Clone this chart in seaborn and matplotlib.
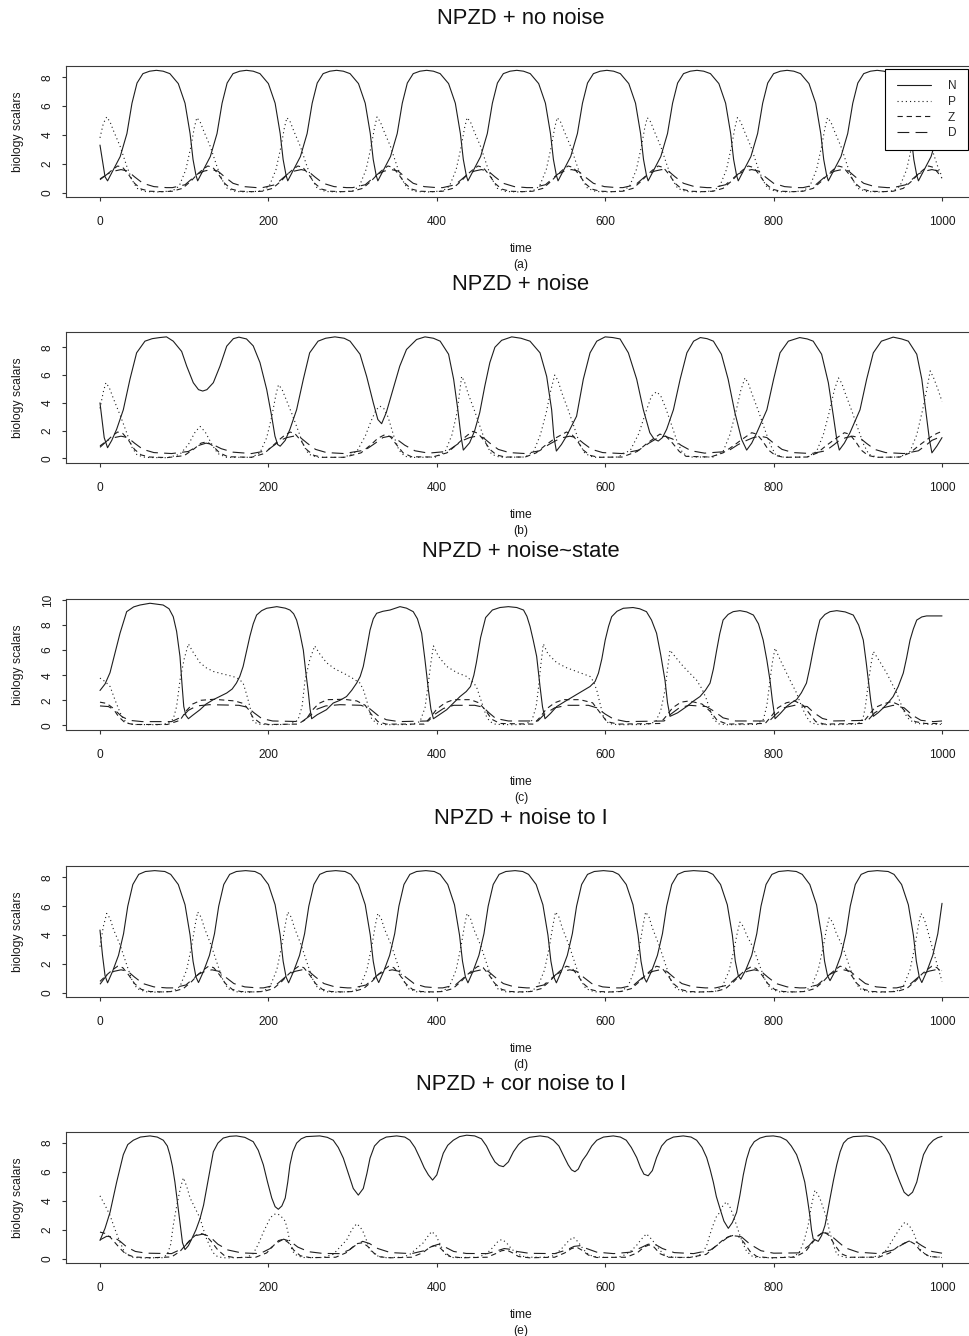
import matplotlib
matplotlib.use("Agg")
import matplotlib.pyplot as plt
import seaborn as sns

# ------------------------------------------------------------------ data
SERIES_NAMES = ["N", "P", "Z", "D"]
TITLES = ["NPZD + no noise", "NPZD + noise", "NPZD + noise~state",
          "NPZD + noise to I", "NPZD + cor noise to I"]
TAGS = ["(a)", "(b)", "(c)", "(d)", "(e)"]
X_TICKS = [0, 200, 400, 600, 800, 1000]
Y_TICKS_8 = [0, 2, 4, 6, 8]
Y_TICKS_10 = [0, 2, 4, 6, 8, 10]

# ---- (a) no noise : (time, value)
A_N = [(0,3.3),(6,1.1),
(9,0.82),(16,1.6),(24,2.5),(32,4.1),(38,6.2),(44,7.6),(51,8.25),(59,8.42),(67,8.48),(75,8.42),(83,8.25),(93,7.56),(101,6.2),(107,4.1),(110.5,2.3),(114,1.2),
(116,0.82),(123,1.6),(131,2.5),(139,4.1),(145,6.2),(151,7.6),(158,8.25),(166,8.42),(174,8.48),(182,8.42),(190,8.25),(200,7.56),(208,6.2),(214,4.1),(217.5,2.3),(221,1.2),
(223,0.82),(230,1.6),(238,2.5),(246,4.1),(252,6.2),(258,7.6),(265,8.25),(273,8.42),(281,8.48),(289,8.42),(297,8.25),(307,7.56),(315,6.2),(321,4.1),(324.5,2.3),(328,1.2),
(330,0.82),(337,1.6),(345,2.5),(353,4.1),(359,6.2),(365,7.6),(372,8.25),(380,8.42),(388,8.48),(396,8.42),(404,8.25),(414,7.56),(422,6.2),(428,4.1),(431.5,2.3),(435,1.2),
(437,0.82),(444,1.6),(452,2.5),(460,4.1),(466,6.2),(472,7.6),(479,8.25),(487,8.42),(495,8.48),(503,8.42),(511,8.25),(521,7.56),(529,6.2),(535,4.1),(538.5,2.3),(542,1.2),
(544,0.82),(551,1.6),(559,2.5),(567,4.1),(573,6.2),(579,7.6),(586,8.25),(594,8.42),(602,8.48),(610,8.42),(618,8.25),(628,7.56),(636,6.2),(642,4.1),(645.5,2.3),(649,1.2),
(651,0.82),(658,1.6),(666,2.5),(674,4.1),(680,6.2),(686,7.6),(693,8.25),(701,8.42),(709,8.48),(717,8.42),(725,8.25),(735,7.56),(743,6.2),(749,4.1),(752.5,2.3),(756,1.2),
(758,0.82),(765,1.6),(773,2.5),(781,4.1),(787,6.2),(793,7.6),(800,8.25),(808,8.42),(816,8.48),(824,8.42),(832,8.25),(842,7.56),(850,6.2),(856,4.1),(859.5,2.3),(863,1.2),
(865,0.82),(872,1.6),(880,2.5),(888,4.1),(894,6.2),(900,7.6),(907,8.25),(915,8.42),(923,8.48),(931,8.42),(939,8.25),(949,7.56),(957,6.2),(963,4.1),(966.5,2.3),(970,1.2),
(972,0.82),(979,1.6),(987,2.5),(995,4.1),(1000,5.9)]

A_P = [(0,3.8),(4,4.8),(8,5.25),(12,4.9),(16,4.3),(24,3.2),(32,1.8),(38,0.9),(44,0.3),(54,0.08),(69,0.05),
(86,0.12),(94,0.45),(102,1.6),(108,3.2),(112,4.5),(115,5.2),(119,4.9),(123,4.3),(131,3.2),(139,1.8),(145,0.9),(151,0.3),(161,0.08),(176,0.05),
(193,0.12),(201,0.45),(209,1.6),(215,3.2),(219,4.5),(222,5.2),(226,4.9),(230,4.3),(238,3.2),(246,1.8),(252,0.9),(258,0.3),(268,0.08),(283,0.05),
(300,0.12),(308,0.45),(316,1.6),(322,3.2),(326,4.5),(329,5.25),(333,4.9),(337,4.3),(345,3.2),(353,1.8),(359,0.9),(365,0.3),(375,0.08),(390,0.05),
(407,0.12),(415,0.45),(423,1.6),(429,3.2),(433,4.5),(436,5.2),(440,4.9),(444,4.3),(452,3.2),(460,1.8),(466,0.9),(472,0.3),(482,0.08),(497,0.05),
(514,0.12),(522,0.45),(530,1.6),(536,3.2),(540,4.5),(543,5.2),(547,4.9),(551,4.3),(559,3.2),(567,1.8),(573,0.9),(579,0.3),(589,0.08),(604,0.05),
(621,0.12),(629,0.45),(637,1.6),(643,3.2),(647,4.5),(650,5.2),(654,4.9),(658,4.3),(666,3.2),(674,1.8),(680,0.9),(686,0.3),(696,0.08),(711,0.05),
(728,0.12),(736,0.45),(744,1.6),(750,3.2),(754,4.5),(757,5.2),(761,4.9),(765,4.3),(773,3.2),(781,1.8),(787,0.9),(793,0.3),(803,0.08),(818,0.05),
(835,0.12),(843,0.45),(851,1.6),(857,3.2),(861,4.5),(864,5.2),(868,4.9),(872,4.3),(880,3.2),(888,1.8),(894,0.9),(900,0.3),(910,0.08),(925,0.05),
(942,0.12),(950,0.45),(958,1.6),(964,3.2),(968,4.5),(971,5.2),(975,4.9),(979,4.3),(987,3.2),(995,1.8),(1000,1.1)]

A_Z = [(0,0.95),(9,1.3),(15,1.6),(21,1.85),(27,1.75),(34,1.25),(41,0.65),(49,0.25),(59,0.1),(74,0.07),
(86,0.1),(98,0.3),(108,0.8),(116,1.3),(122,1.6),(128,1.85),(134,1.75),(141,1.25),(148,0.65),(156,0.25),(166,0.1),(181,0.07),
(193,0.1),(205,0.3),(215,0.8),(223,1.3),(229,1.6),(235,1.85),(241,1.75),(248,1.25),(255,0.65),(263,0.25),(273,0.1),(288,0.07),
(300,0.1),(312,0.3),(322,0.8),(330,1.3),(336,1.6),(342,1.85),(348,1.75),(355,1.25),(362,0.65),(370,0.25),(380,0.1),(395,0.07),
(407,0.1),(419,0.3),(429,0.8),(437,1.3),(443,1.6),(449,1.85),(455,1.75),(462,1.25),(469,0.65),(477,0.25),(487,0.1),(502,0.07),
(514,0.1),(526,0.3),(536,0.8),(544,1.3),(550,1.6),(556,1.85),(562,1.75),(569,1.25),(576,0.65),(584,0.25),(594,0.1),(609,0.07),
(621,0.1),(633,0.3),(643,0.8),(651,1.3),(657,1.6),(663,1.85),(669,1.75),(676,1.25),(683,0.65),(691,0.25),(701,0.1),(716,0.07),
(728,0.1),(740,0.3),(750,0.8),(758,1.3),(764,1.6),(770,1.85),(776,1.75),(783,1.25),(790,0.65),(798,0.25),(808,0.1),(823,0.07),
(835,0.1),(847,0.3),(857,0.8),(865,1.3),(871,1.6),(877,1.85),(883,1.75),(890,1.25),(897,0.65),(905,0.25),(915,0.1),(930,0.07),
(942,0.1),(954,0.3),(964,0.8),(972,1.3),(978,1.6),(984,1.85),(990,1.75),(997,1.25),(1000,1.0)]

A_D = [(0,0.9),(9,1.3),(17,1.5),(25,1.6),(33,1.5),(41,1.1),(51,0.65),(64,0.42),(79,0.35),
(86,0.35),(101,0.55),(110,1.0),(116,1.3),(124,1.5),(132,1.6),(140,1.5),(148,1.1),(158,0.65),(171,0.42),(186,0.35),
(193,0.35),(208,0.55),(217,1.0),(223,1.3),(231,1.5),(239,1.6),(247,1.5),(255,1.1),(265,0.65),(278,0.42),(293,0.35),
(300,0.35),(315,0.55),(324,1.0),(330,1.3),(338,1.5),(346,1.6),(354,1.5),(362,1.1),(372,0.65),(385,0.42),(400,0.35),
(407,0.35),(422,0.55),(431,1.0),(437,1.3),(445,1.5),(453,1.6),(461,1.5),(469,1.1),(479,0.65),(492,0.42),(507,0.35),
(514,0.35),(529,0.55),(538,1.0),(544,1.3),(552,1.5),(560,1.6),(568,1.5),(576,1.1),(586,0.65),(599,0.42),(614,0.35),
(621,0.35),(636,0.55),(645,1.0),(651,1.3),(659,1.5),(667,1.6),(675,1.5),(683,1.1),(693,0.65),(706,0.42),(721,0.35),
(728,0.35),(743,0.55),(752,1.0),(758,1.3),(766,1.5),(774,1.6),(782,1.5),(790,1.1),(800,0.65),(813,0.42),(828,0.35),
(835,0.35),(850,0.55),(859,1.0),(865,1.3),(873,1.5),(881,1.6),(889,1.5),(897,1.1),(907,0.65),(920,0.42),(935,0.35),
(942,0.35),(957,0.55),(966,1.0),(972,1.3),(980,1.5),(988,1.6),(996,1.5),(1000,1.3)]

# ---- (b) noise
B_N = [(0,4.0),(5,1.5),(9,0.77),(14,1.3),(19.8,2.1),(27.7,3.5),(35.6,5.7),(43.5,7.6),(53.4,8.44),(62,8.62),(71,8.7),(79,8.75),
(87,8.44),(97,7.7),(103,6.64),(110.8,5.45),(117,4.95),(122,4.85),(127,4.95),(134.6,5.45),(142.5,6.64),(150.5,8.08),(158.4,8.62),(165,8.73),
(174,8.6),(182,8.1),(190,6.9),(198,4.96),(204,3.0),(207.8,1.6),(211,1.0),(214,0.88),(220,1.3),(225.6,2.1),(233.5,3.5),(241.5,5.7),(249,7.6),
(259,8.44),(268,8.65),(279,8.75),(290,8.65),(297,8.44),(308.8,7.5),(316.7,5.9),(324.6,4.0),(330,2.8),(334.5,2.5),(340,3.3),(348,4.96),
(356,6.64),(364,7.84),(376,8.56),(386,8.75),(396,8.65),(404,8.44),(414,7.5),(420,5.7),(425,3.5),(428.7,1.6),(431.5,0.6),(439,1.13),
(445,2.0),(451,3.3),(457,5.2),(463,6.9),(469,8.0),(477,8.5),(489,8.75),(500,8.65),(510.7,8.44),(522.6,7.6),(530.5,5.9),(536.4,3.5),
(539,1.6),(542,0.53),(548,1.0),(554,1.6),(566,3.04),(574,5.7),(582,7.6),(590,8.44),(600,8.75),(609,8.7),(617.6,8.6),(627.5,7.6),
(637.4,5.7),(645.3,3.5),(653,1.85),(658,1.4),(663,1.25),(668,1.5),(673,2.1),(681,3.5),(689,5.7),(697,7.6),(705,8.44),(713,8.7),
(721,8.62),(728.5,8.44),(738,7.5),(746,5.7),(754,3.3),(762,1.37),(768,0.6),(774,1.1),(780,1.85),(792,3.5),(800,5.7),(807.6,7.6),
(817.5,8.44),(831,8.7),(840,8.6),(847,8.44),(857,7.5),(865,5.45),(871,3.04),(875,1.37),(878,0.6),(884,1.1),(890.7,1.85),(902.6,3.5),
(910.5,5.7),(918.4,7.6),(928,8.44),(942,8.73),(952,8.6),(960,8.44),(970,7.5),(976,5.7),(981,3.3),(985,1.37),(988,0.4),(994,0.9),(1000,1.5)]

B_P = [(0,3.6),(4,4.8),(7,5.45),(11,5.1),(16,4.3),(24,3.1),(32,1.8),(38,0.8),(44,0.25),(54,0.07),(80,0.05),(95,0.3),(105,1.0),
(113,1.9),(119,2.3),(125,1.9),(133,1.0),(140,0.35),(150,0.08),(180,0.08),(190,0.4),(198,1.5),(204,3.0),(209,4.6),(212,5.3),(216,5.0),
(220,4.4),(228,3.2),(236,1.9),(242,0.9),(248,0.3),(258,0.08),(290,0.08),(305,0.5),(315,1.6),(322,2.7),(328,3.5),(332.5,3.76),(337,3.6),
(342,3.0),(349,1.6),(355,0.6),(362,0.15),(372,0.07),(400,0.1),(410,0.5),(418,1.7),(424,3.3),(427,4.7),(429.5,5.9),(433,5.5),(437,4.7),
(445,3.4),(453,2.0),(459,1.0),(465,0.3),(475,0.08),(505,0.1),(515,0.5),(523,1.7),(530,3.3),(535,4.8),(540,6.0),(544,5.6),(548,4.8),
(556,3.5),(564,2.1),(570,1.0),(576,0.35),(586,0.08),(615,0.1),(630,0.6),(640,1.8),(648,3.3),(655,4.5),(661,4.8),(666,4.5),(672,3.6),
(680,2.2),(686,1.1),(692,0.4),(700,0.1),(728,0.1),(740,0.5),(748,1.7),(755,3.3),(761,4.9),(766,5.8),(770,5.4),(774,4.7),(782,3.4),
(790,2.0),(796,1.0),(802,0.3),(812,0.08),(840,0.1),(851,0.5),(859,1.7),(866,3.3),(872,4.9),(877,5.8),(881,5.4),(885,4.7),(893,3.4),
(901,2.0),(907,1.0),(913,0.3),(923,0.08),(950,0.1),(962,0.5),(970,1.7),(977,3.5),(982,5.0),(986,6.3),(990,5.8),(995,5.0),(1000,4.1)]

B_Z = [(0,0.9),(9,1.3),(15,1.65),(21,1.9),(27,1.8),(34,1.3),(41,0.65),(49,0.25),(59,0.1),(80,0.06),(100,0.2),(112,0.7),(120,1.1),
(127,1.2),(134,0.9),(142,0.4),(152,0.12),(180,0.08),(195,0.35),(205,0.9),(214,1.4),(220,1.7),(226,1.9),(232,1.75),(239,1.25),(246,0.6),
(254,0.22),(264,0.08),(290,0.08),(310,0.4),(322,1.0),(330,1.45),(338,1.7),(345,1.55),(352,1.0),(360,0.4),(370,0.12),(395,0.1),(412,0.4),
(422,0.9),(431,1.4),(437,1.7),(443,1.95),(449,1.8),(456,1.3),(463,0.65),(471,0.25),(481,0.1),(505,0.1),(518,0.4),(528,0.9),(537,1.3),
(542,1.5),(548,1.7),(554,1.9),(560,1.75),(567,1.25),(574,0.6),(582,0.22),(592,0.08),(620,0.1),(638,0.5),(650,1.1),(658,1.45),(665,1.75),
(672,1.6),(680,1.1),(688,0.5),(696,0.15),(725,0.1),(740,0.4),(752,0.9),(762,1.35),(768,1.6),(774,1.85),(780,1.75),(787,1.25),(794,0.6),
(802,0.22),(812,0.08),(840,0.1),(852,0.4),(862,0.9),(872,1.35),(878,1.6),(884,1.85),(890,1.75),(897,1.25),(904,0.6),(912,0.22),(922,0.08),
(950,0.1),(962,0.4),(972,0.9),(982,1.35),(988,1.6),(994,1.8),(1000,1.95)]

B_D = [(0,0.8),(9,1.3),(17,1.5),(25,1.6),(33,1.5),(41,1.1),(51,0.65),(64,0.42),(85,0.35),(105,0.5),(118,0.95),(126,1.1),(134,1.0),
(144,0.7),(158,0.45),(180,0.35),(198,0.55),(208,1.0),(214,1.3),(222,1.5),(230,1.6),(238,1.5),(246,1.1),(256,0.65),(269,0.42),(290,0.35),
(315,0.6),(327,1.1),(336,1.5),(344,1.6),(352,1.4),(362,0.95),(374,0.55),(390,0.38),(412,0.5),(424,1.0),(431,1.3),(439,1.5),(447,1.6),
(455,1.5),(463,1.1),(473,0.65),(486,0.42),(505,0.35),(522,0.55),(533,1.0),(542,1.3),(550,1.5),(558,1.6),(566,1.5),(574,1.1),(584,0.65),
(597,0.42),(620,0.35),(640,0.6),(652,1.1),(663,1.5),(671,1.6),(680,1.4),(690,0.95),(702,0.55),(718,0.38),(745,0.5),(758,1.0),(768,1.3),
(776,1.5),(784,1.6),(792,1.5),(800,1.1),(810,0.65),(823,0.42),(845,0.35),(862,0.55),(872,1.0),(878,1.3),(886,1.5),(894,1.6),(902,1.5),
(910,1.1),(920,0.65),(933,0.42),(955,0.35),(972,0.55),(982,1.0),(988,1.3),(996,1.5),(1000,1.6)]

# ---- (c) noise~state
C_N = [(0,2.78),(6,3.3),(11.9,4.2),(18,5.8),(23.8,7.35),(31.7,9.07),(40,9.45),(47.5,9.6),(59.4,9.74),(75,9.6),(82,9.3),(87,8.67),
(91,7.5),(95,5.5),(97.5,3.2),(99.5,1.5),(102,0.8),(105,0.53),(110,0.8),(118.8,1.25),(126,1.7),(134.6,2.05),(142,2.3),(150.5,2.58),
(157,2.9),(162,3.37),(166,3.9),(170,4.7),(174,5.9),(178,7.1),(182,8.1),(186,8.8),(192,9.15),(198,9.34),(210,9.47),(220,9.35),
(225.6,9.2),(230,8.9),(233.5,8.4),(237,7.5),(241.5,6.0),(244.5,4.2),(247.5,2.6),(249.5,1.3),(251.4,0.53),(258,0.85),(269,1.25),
(277,1.78),(285,2.0),(292.8,2.3),(299,2.8),(304.8,3.37),(309,3.9),(312.7,4.7),(316.7,6.1),(320.7,7.6),(324.6,8.5),(328.6,8.94),
(336,9.1),(344.4,9.2),(356.3,9.47),(364,9.35),(372,9.07),(377,8.5),(382,7.35),(386,5.2),(390,2.84),(393,1.3),(396,0.53),(403,0.85),
(411.8,1.25),(420,1.8),(427.6,2.3),(435,2.7),(440,3.1),(444,4.0),(447,5.0),(452,7.0),(458,8.6),(466,9.2),(475,9.4),(485,9.47),
(495,9.4),(503,9.2),(507,8.7),(510.7,7.9),(514.5,6.8),(518.6,5.5),(522.6,3.1),(525.5,1.5),(528.5,0.53),(535,0.95),(542.4,1.5),
(552,1.9),(562,2.3),(572,2.7),(582,3.1),(588,3.5),(592,4.17),(596,5.3),(600,6.8),(604,7.9),(607.7,8.67),(614,9.1),(621.5,9.34),
(633,9.4),(641,9.3),(649,9.07),(655,8.4),(661,7.35),(666,5.6),(671,3.6),(674,1.8),(677,0.72),(686,1.0),(696.7,1.5),(704,1.9),
(712.6,2.3),(719,2.8),(724.5,3.37),(728.5,4.5),(732.4,6.0),(736,7.3),(740,8.4),(746,8.85),(752,9.07),(760,9.15),(768,9.05),(776,8.8),
(782,8.1),(787.6,6.8),(792,5.2),(795.7,3.6),(798.5,2.0),(801.7,0.53),(808,0.95),(815.4,1.5),(821,1.8),(827.3,2.05),(833,2.6),
(839,3.37),(843,4.6),(847,6.0),(851,7.3),(855,8.4),(861,8.85),(867,9.07),(875,9.15),(885,9.05),(894.6,8.8),(901,8.0),(906.5,6.8),
(910,5.0),(912.5,3.6),(915.5,1.9),(918.4,0.72),(924,1.0),(930,1.38),(936,1.8),(942,2.3),(948,3.1),(954,4.17),(958,5.4),(962,6.8),
(966,7.7),(970,8.4),(976,8.65),(981.7,8.73),(1000,8.73)]

C_P = [(0,3.77),(6,3.5),(12,3.1),(18,2.0),(24,1.0),(28,0.5),(31.7,0.2),(40,0.07),(70,0.05),(80,0.15),(87,0.5),(91,1.5),(95,3.6),
(100,5.3),(105,6.5),(110,5.9),(118.8,5.0),(126,4.6),(134.6,4.3),(146,4.1),(158,3.9),(165,3.7),(170,3.37),(174,2.5),(178,1.5),(182,0.3),
(188,0.1),(200,0.05),(225,0.08),(235,0.4),(240,1.5),(243.5,3.6),(249,5.2),(255,6.34),(261,5.7),(269,5.0),(279,4.5),(289,4.17),(299,3.8),
(308.8,3.37),(313,2.8),(316.7,2.0),(320,1.1),(322.7,0.5),(330,0.1),(340,0.05),(370,0.07),(380,0.3),(386,1.4),(390,3.4),(393,5.0),
(396,6.34),(402,5.5),(411.8,4.7),(424,4.2),(435.5,3.9),(442,3.5),(447,3.1),(451,2.3),(455,1.5),(459,0.7),(463,0.3),(470,0.08),(490,0.05),
(505,0.08),(513,0.4),(518,1.5),(520.6,2.9),(523.5,4.8),(526.5,6.5),(532,5.7),(542.4,5.0),(554,4.6),(566,4.3),(576,4.05),(582,3.9),
(586,3.5),(590,2.8),(594,1.7),(597.8,0.7),(604,0.15),(615,0.05),(650,0.07),(660,0.3),(666,1.2),(671,2.8),(674,4.5),(677,6.0),(684,5.4),
(692.7,4.7),(700,4.2),(708.6,3.6),(715,2.9),(720.5,2.05),(725,1.1),(728.5,0.5),(735,0.12),(745,0.05),(780,0.08),(788,0.5),(792,1.6),
(795.7,3.6),(798.5,5.0),(801.7,6.16),(808,5.2),(815.4,4.17),(821,3.4),(827.3,2.58),(831,1.9),(835,1.25),(839,0.7),(843,0.3),(850,0.08),
(870,0.05),(900,0.1),(906,0.5),(909,1.5),(912.5,3.37),(915.5,4.8),(918.4,5.9),(926,5.1),(934.3,4.17),(940,3.4),(946.2,2.58),(950,1.9),
(954,1.25),(958,0.7),(962,0.4),(970,0.15),(985,0.08),(1000,0.08)]

C_Z = [(0,1.85),(8,1.75),(15,1.4),(22,0.7),(30,0.2),(40,0.07),(80,0.07),(95,0.4),(103,1.2),(110,1.7),(120,2.0),(135,2.08),(160,1.95),
(170,1.75),(176,1.3),(182,0.6),(190,0.2),(200,0.07),(235,0.1),(245,0.5),(252,1.2),(260,1.75),(270,2.05),(290,2.08),(305,1.95),(315,1.6),
(322,0.9),(330,0.3),(340,0.1),(385,0.1),(392,0.6),(400,1.3),(410,1.8),(420,2.05),(440,2.05),(450,1.8),(458,1.2),(465,0.5),(475,0.15),
(515,0.1),(522,0.6),(530,1.3),(540,1.8),(550,2.05),(570,2.05),(585,1.8),(594,1.0),(602,0.3),(615,0.1),(665,0.15),(672,0.7),(680,1.4),
(690,1.85),(700,1.95),(715,1.7),(725,1.1),(733,0.4),(745,0.1),(790,0.15),(797,0.7),(805,1.4),(815,1.8),(825,1.95),(835,1.6),(843,0.9),
(850,0.3),(860,0.1),(905,0.15),(913,0.8),(920,1.4),(930,1.7),(940,1.9),(950,1.6),(960,0.8),(968,0.3),(980,0.15),(1000,0.15)]

C_D = [(0,1.55),(10,1.5),(18,1.2),(26,0.7),(35,0.4),(50,0.3),(85,0.3),(98,0.7),(105,1.2),(115,1.55),(130,1.65),(165,1.6),(175,1.45),
(183,1.0),(192,0.55),(205,0.35),(240,0.3),(250,0.8),(258,1.3),(268,1.55),(285,1.65),(310,1.6),(320,1.35),(330,0.8),(340,0.45),(355,0.3),
(390,0.35),(398,0.9),(408,1.35),(420,1.6),(445,1.6),(455,1.45),(462,1.0),(470,0.55),(485,0.35),(520,0.35),(528,0.9),(540,1.4),(555,1.6),
(580,1.6),(590,1.4),(600,0.9),(610,0.5),(625,0.3),(670,0.35),(678,0.9),(688,1.4),(700,1.6),(720,1.5),(730,1.1),(740,0.6),(755,0.35),
(795,0.35),(803,0.9),(812,1.4),(825,1.6),(840,1.5),(848,1.0),(858,0.55),(870,0.35),(912,0.4),(920,1.0),(930,1.4),(942,1.6),(955,1.4),
(965,0.8),(975,0.4),(990,0.3),(1000,0.35)]

# ---- (d) noise to I
D_N = [(0,4.35),(3,2.6),(6,1.2),
(9,0.7),(15,1.5),(22,2.6),(28,4.1),(33,6.0),(39,7.5),(46,8.2),(54,8.4),(65,8.46),(77,8.4),(84,8.2),(93,7.5),(101,6.1),(107,4.0),(110.5,2.2),(114,1.1),
(117,0.72),(123,1.5),(130,2.6),(136,4.1),(141,6.0),(147,7.5),(154,8.2),(162,8.4),(173,8.46),(184,8.4),(191,8.2),(200,7.5),(208,6.1),(214,4.0),(217.5,2.2),(221,1.1),
(224,0.7),(230,1.5),(237,2.6),(243,4.1),(248,6.0),(254,7.5),(261,8.2),(269,8.4),(280,8.46),(291,8.4),(298,8.2),(307,7.5),(315,6.1),(321,4.0),(324.5,2.2),(328,1.1),
(331,0.72),(337,1.5),(344,2.6),(350,4.1),(355,6.0),(361,7.5),(368,8.2),(376,8.4),(387,8.46),(397,8.4),(404,8.2),(413,7.5),(421,6.1),(427,4.0),(430.5,2.2),(434,1.1),
(437,0.7),(443,1.5),(450,2.6),(456,4.1),(461,6.0),(467,7.5),(474,8.2),(482,8.4),(493,8.46),(502,8.4),(509,8.2),(518,7.5),(526,6.1),(532,4.0),(535.5,2.2),(539,1.1),
(542,0.7),(548,1.5),(555,2.6),(561,4.1),(566,6.0),(572,7.5),(579,8.2),(587,8.4),(598,8.46),(609,8.4),(616,8.2),(625,7.5),(633,6.1),(639,4.0),(642.5,2.2),(646,1.1),
(649,0.75),(655,1.5),(662,2.6),(668,4.1),(673,6.0),(679,7.5),(686,8.2),(694,8.4),(705,8.46),(721,8.4),(728,8.2),(737,7.5),(745,6.1),(751,4.0),(754.5,2.2),(758,1.2),
(761,0.95),(767,1.6),(774,2.6),(780,4.1),(785,6.0),(791,7.5),(798,8.2),(806,8.4),(817,8.46),(827,8.4),(834,8.2),(843,7.5),(851,6.1),(857,4.0),(860.5,2.2),(864,1.2),
(867,0.85),(873,1.5),(880,2.6),(886,4.1),(891,6.0),(897,7.5),(904,8.2),(912,8.4),(923,8.46),(936,8.4),(943,8.2),(952,7.5),(960,6.1),(966,4.0),(969.5,2.2),(973,1.1),
(976,0.72),(982,1.5),(989,2.6),(995,4.1),(1000,6.2)]

D_P = [(0,3.2),(4,4.6),(8,5.5),(12,5.15),(16,4.4),(24,3.3),(32,1.9),(38,0.9),(44,0.3),(54,0.08),(69,0.05),
(87,0.12),(95,0.45),(103,1.6),(109,3.3),(113,4.7),(116,5.6),(120,5.25),(124,4.5),(132,3.3),(140,1.9),(146,0.9),(152,0.3),(162,0.08),(177,0.05),
(194,0.12),(202,0.45),(210,1.6),(216,3.3),(220,4.7),(223,5.6),(227,5.25),(231,4.5),(239,3.3),(247,1.9),(253,0.9),(259,0.3),(269,0.08),(284,0.05),
(301,0.12),(309,0.45),(317,1.6),(323,3.3),(327,4.7),(330,5.5),(334,5.15),(338,4.4),(346,3.3),(354,1.9),(360,0.9),(366,0.3),(376,0.08),(391,0.05),
(407,0.12),(415,0.45),(423,1.6),(429,3.3),(433,4.7),(436,5.5),(440,5.15),(444,4.4),(452,3.3),(460,1.9),(466,0.9),(472,0.3),(482,0.08),(497,0.05),
(512,0.12),(520,0.45),(528,1.6),(534,3.3),(538,4.7),(541,5.6),(545,5.25),(549,4.5),(557,3.3),(565,1.9),(571,0.9),(577,0.3),(587,0.08),(602,0.05),
(619,0.12),(627,0.45),(635,1.6),(641,3.3),(645,4.7),(648,5.6),(652,5.25),(656,4.5),(664,3.3),(672,1.9),(678,0.9),(684,0.3),(694,0.08),(709,0.05),
(731,0.12),(739,0.45),(747,1.5),(753,3.0),(757,4.2),(760,4.9),(764,4.6),(768,4.0),(776,3.1),(784,1.8),(790,0.9),(796,0.3),(806,0.08),(821,0.05),
(837,0.12),(845,0.45),(853,1.6),(859,3.2),(863,4.5),(866,5.2),(870,4.9),(874,4.2),(882,3.2),(890,1.85),(896,0.9),(902,0.3),(912,0.08),(927,0.05),
(946,0.12),(954,0.45),(962,1.6),(968,3.3),(972,4.7),(975,5.5),(979,5.1),(983,4.3),(991,2.6),(1000,0.8)]

D_Z = [(0,0.8),(9,1.3),(15,1.6),(21,1.85),(27,1.75),(34,1.25),(41,0.65),(49,0.25),(59,0.1),(74,0.07),
(87,0.1),(99,0.3),(109,0.8),(117,1.3),(123,1.6),(129,1.85),(135,1.75),(142,1.25),(149,0.65),(157,0.25),(167,0.1),(182,0.07),
(194,0.1),(206,0.3),(216,0.8),(224,1.3),(230,1.6),(236,1.85),(242,1.75),(249,1.25),(256,0.65),(264,0.25),(274,0.1),(289,0.07),
(301,0.1),(313,0.3),(323,0.8),(331,1.3),(337,1.6),(343,1.85),(349,1.75),(356,1.25),(363,0.65),(371,0.25),(381,0.1),(396,0.07),
(407,0.1),(419,0.3),(429,0.8),(437,1.3),(443,1.6),(449,1.85),(455,1.75),(462,1.25),(469,0.65),(477,0.25),(487,0.1),(502,0.07),
(512,0.1),(524,0.3),(534,0.8),(542,1.3),(548,1.6),(554,1.85),(560,1.75),(567,1.25),(574,0.65),(582,0.25),(592,0.1),(607,0.07),
(619,0.1),(631,0.3),(641,0.8),(649,1.3),(655,1.6),(661,1.85),(667,1.75),(674,1.25),(681,0.65),(689,0.25),(699,0.1),(714,0.07),
(731,0.1),(743,0.3),(753,0.8),(761,1.3),(767,1.6),(773,1.8),(779,1.7),(786,1.25),(793,0.65),(801,0.25),(811,0.1),(826,0.07),
(837,0.1),(849,0.3),(859,0.8),(867,1.3),(873,1.6),(879,1.85),(885,1.75),(892,1.25),(899,0.65),(907,0.25),(917,0.1),(932,0.07),
(946,0.1),(958,0.3),(968,0.8),(976,1.3),(982,1.6),(988,1.85),(994,1.75),(1000,1.4)]

D_D = [(0,0.6),(9,1.3),(17,1.5),(25,1.6),(33,1.5),(41,1.1),(51,0.65),(64,0.42),(79,0.35),
(87,0.35),(102,0.55),(111,1.0),(117,1.3),(125,1.5),(133,1.6),(141,1.5),(149,1.1),(159,0.65),(172,0.42),(187,0.35),
(194,0.35),(209,0.55),(218,1.0),(224,1.3),(232,1.5),(240,1.6),(248,1.5),(256,1.1),(266,0.65),(279,0.42),(294,0.35),
(301,0.35),(316,0.55),(325,1.0),(331,1.3),(339,1.5),(347,1.6),(355,1.5),(363,1.1),(373,0.65),(386,0.42),(401,0.35),
(407,0.35),(422,0.55),(431,1.0),(437,1.3),(445,1.5),(453,1.6),(461,1.5),(469,1.1),(479,0.65),(492,0.42),(507,0.35),
(512,0.35),(527,0.55),(536,1.0),(542,1.3),(550,1.5),(558,1.6),(566,1.5),(574,1.1),(584,0.65),(597,0.42),(612,0.35),
(619,0.35),(634,0.55),(643,1.0),(649,1.3),(657,1.5),(665,1.6),(673,1.5),(681,1.1),(691,0.65),(704,0.42),(719,0.35),
(731,0.35),(746,0.55),(755,1.0),(761,1.3),(769,1.5),(777,1.6),(785,1.5),(793,1.1),(803,0.65),(816,0.42),(831,0.35),
(837,0.35),(852,0.55),(861,1.0),(867,1.3),(875,1.5),(883,1.6),(891,1.5),(899,1.1),(909,0.65),(922,0.42),(937,0.35),
(946,0.35),(961,0.55),(970,1.0),(976,1.3),(984,1.5),(992,1.6),(1000,1.55)]

# ---- (e) correlated noise to I
E_N = [(0,1.26),(6,2.1),(11.9,3.2),(19.8,5.3),(27.7,7.2),(33,7.9),(39.6,8.2),(48,8.42),(59.4,8.5),(68,8.42),(75.2,8.2),(80,7.8),
(83,7.2),(86,6.4),(89,5.3),(92,3.9),(95,2.5),(98,1.1),(101,0.63),(105,0.9),(109,1.37),(114,2.0),(118.8,2.77),(123,3.7),(126.6,4.86),
(131,6.3),(134.6,7.4),(140,8.0),(146.4,8.35),(154,8.47),(162,8.5),(172,8.4),(182,8.1),(188,7.5),(194,6.5),(199,5.3),(204,4.2),(208,3.6),
(211.8,3.42),(216,3.65),(220,4.2),(223,5.3),(225.6,6.5),(229,7.4),(233.5,8.0),(239,8.3),(245,8.45),(261,8.5),(270,8.4),(277,8.2),
(283,7.7),(289,6.96),(295,5.9),(300.8,4.86),(306.8,4.4),(312.7,4.86),(317,5.9),(320.7,6.96),(326,7.8),(332.5,8.2),(340,8.42),
(352.3,8.5),(362,8.42),(368,8.2),(374,7.7),(380,6.96),(385,6.3),(390,5.8),(395,5.44),(400,5.8),(404,6.6),(407.7,7.3),(413,7.85),
(419.6,8.2),(427,8.45),(435.5,8.55),(445,8.5),(453,8.3),(459,7.8),(464,7.2),(469,6.7),(474,6.45),(479,6.37),(485,6.7),(491,7.4),
(497,7.9),(502.6,8.2),(510,8.4),(522.6,8.5),(532,8.42),(538.4,8.2),(545,7.8),(550,7.2),(556,6.5),(560,6.15),(564,6.02),(568,6.2),
(573,6.8),(578,7.2),(584,7.8),(590,8.2),(598,8.42),(609.6,8.5),(618,8.42),(625,8.2),(631,7.7),(637.4,7.0),(642,6.3),(646,5.85),
(651,5.74),(656,6.1),(661,7.0),(667,7.8),(673,8.2),(681,8.42),(692.7,8.5),(702,8.42),(708.6,8.2),(715,7.7),(720.5,7.0),(724.5,6.2),
(728.4,5.3),(732,4.3),(736.3,3.47),(741,2.6),(746.2,2.1),(751,2.5),(756,3.2),(760,4.4),(764,5.8),(768,6.9),(772,7.65),(777,8.1),
(783.8,8.35),(791,8.47),(799.6,8.5),(808,8.42),(815.4,8.2),(821,7.8),(827.3,7.2),(832,6.4),(837,5.3),(840,4.2),(843,3.0),(845,2.0),
(847,1.37),(853,1.2),(857,1.6),(861,2.3),(864,3.2),(867,4.17),(871,5.4),(875,6.5),(879,7.4),(883,8.0),(888,8.3),(894.6,8.45),
(910.5,8.5),(918,8.42),(926,8.2),(932,7.8),(938,7.2),(944,6.2),(950,5.3),(955,4.6),(960,4.35),(965,4.6),(970,5.3),(974,6.3),(978,7.2),
(984,7.85),(989.7,8.2),(995,8.38),(1000,8.46)]

E_P = [(0,4.35),(6,3.7),(11.9,3.0),(18,2.0),(23.8,1.14),(28,0.6),(31.7,0.3),(38,0.1),(50,0.05),(75,0.07),(80,0.3),(84,1.0),(87,2.3),
(90,3.3),(93,4.2),(96,5.0),(99,5.6),(103,5.0),(107,4.2),(113,3.5),(118.8,2.8),(123,2.0),(126.6,1.37),(131,0.8),(134.6,0.4),(140,0.12),
(150,0.05),(175,0.1),(182,0.35),(188,1.0),(194,1.83),(202,2.8),(206,3.05),(210,3.12),(214,3.0),(220,2.6),(223,1.9),(225.6,1.14),(228,0.6),
(231.5,0.3),(240,0.08),(265,0.08),(277,0.3),(285,0.8),(293,1.3),(299,2.0),(304.8,2.42),(309,2.2),(312.7,1.83),(317,1.2),(320.7,0.6),
(328.6,0.2),(340,0.07),(360,0.1),(368,0.3),(376,0.7),(384,1.1),(390,1.6),(394,1.88),(399,1.6),(404,1.0),(408,0.5),(411.8,0.2),(420,0.07),
(450,0.1),(460,0.4),(467,0.8),(472,1.15),(477,1.33),(482,1.15),(487,0.8),(491,0.56),(500,0.2),(507,0.1),(530,0.1),(538,0.2),(544,0.45),
(550,0.8),(556,1.2),(562,1.49),(568,1.15),(574,0.65),(580,0.3),(586,0.15),(600,0.08),(615,0.1),(621,0.2),(630,0.5),(637,0.9),(643,1.35),
(649,1.72),(655,1.35),(661,0.9),(667,0.45),(673,0.15),(690,0.07),(710,0.15),(716,0.45),(720.5,0.9),(724,1.6),(728,2.3),(732,2.9),
(736,3.2),(740,3.7),(744,3.93),(748,3.6),(752,3.0),(756,2.3),(760,1.6),(764,1.0),(768,0.5),(776,0.1),(800,0.05),(825,0.15),(831,0.5),
(836,1.2),(841,2.3),(845,3.7),(849,4.74),(852,4.5),(855,4.17),(859,3.5),(863,2.8),(866,2.0),(869,1.37),(872,0.8),(875,0.3),(885,0.08),
(915,0.1),(926,0.2),(934,0.6),(942,1.37),(950,2.1),(956,2.53),(961,2.3),(966,1.83),(970,1.2),(974,0.65),(980,0.3),(986,0.15),(1000,0.1)]

E_Z = [(0,1.84),(6,1.75),(12,1.5),(18,1.1),(24,0.7),(30,0.35),(40,0.12),(60,0.06),(85,0.12),(95,0.5),(101,0.9),(107,1.3),(113,1.6),
(119,1.75),(125,1.65),(132,1.2),(140,0.6),(148,0.2),(160,0.07),(185,0.1),(198,0.4),(206,0.9),(212,1.25),(218,1.35),(224,1.1),(230,0.6),
(238,0.2),(250,0.07),(280,0.1),(292,0.4),(300,0.8),(306,1.05),(312,1.1),(318,0.85),(325,0.4),(333,0.12),(345,0.06),(370,0.1),(383,0.4),
(391,0.75),(397,0.9),(403,0.8),(409,0.45),(416,0.15),(430,0.06),(460,0.1),(470,0.35),(477,0.55),(483,0.6),(490,0.4),(497,0.15),(510,0.06),
(540,0.1),(552,0.4),(560,0.7),(566,0.8),(572,0.6),(580,0.25),(590,0.08),(625,0.1),(638,0.4),(646,0.8),(652,0.95),(658,0.8),(665,0.35),
(675,0.1),(700,0.08),(720,0.3),(732,0.9),(742,1.4),(750,1.6),(758,1.55),(765,1.1),(772,0.5),(780,0.15),(795,0.06),(825,0.1),(838,0.5),
(846,1.1),(853,1.6),(860,1.85),(866,1.6),(872,1.0),(880,0.35),(890,0.1),(925,0.1),(938,0.4),(948,0.85),(956,1.1),(962,1.2),(968,1.0),
(975,0.5),(985,0.15),(1000,0.08)]

E_D = [(0,1.3),(8,1.55),(16,1.5),(24,1.2),(32,0.8),(42,0.5),(55,0.38),(85,0.35),(98,0.7),(106,1.2),(114,1.6),(122,1.7),(130,1.55),
(140,1.0),(152,0.6),(168,0.4),(190,0.35),(202,0.7),(210,1.1),(218,1.35),(226,1.2),(235,0.8),(248,0.48),(265,0.36),(285,0.35),(296,0.6),
(304,0.95),(312,1.2),(320,1.05),(330,0.7),(345,0.42),(370,0.35),(385,0.55),(394,0.85),(402,1.0),(410,0.8),(420,0.5),(435,0.36),(460,0.35),
(472,0.55),(480,0.7),(487,0.65),(495,0.5),(510,0.37),(540,0.35),(554,0.6),(563,0.85),(570,0.9),(578,0.7),(590,0.45),(610,0.35),(630,0.45),
(642,0.75),(651,1.0),(659,1.0),(668,0.7),(682,0.42),(705,0.35),(725,0.6),(737,1.1),(746,1.5),(754,1.65),(762,1.5),(772,1.0),(785,0.55),
(800,0.38),(830,0.4),(842,0.9),(851,1.5),(858,1.8),(865,1.75),(874,1.3),(885,0.75),(900,0.45),(925,0.35),(942,0.6),(952,0.95),(960,1.2),
(967,1.25),(976,0.9),(988,0.5),(1000,0.38)]

PANEL_SERIES = [
    [A_N, A_P, A_Z, A_D],
    [B_N, B_P, B_Z, B_D],
    [C_N, C_P, C_Z, C_D],
    [D_N, D_P, D_Z, D_D],
    [E_N, E_P, E_Z, E_D],
]
PANEL_YLIM = [(-0.3, 8.78), (-0.33, 9.1), (-0.37, 10.08), (-0.28, 8.78), (-0.3, 8.77)]
PANEL_YTICKS = [Y_TICKS_8, Y_TICKS_8, Y_TICKS_10, Y_TICKS_8, Y_TICKS_8]

# ------------------------------------------------------------------ style
sns.set_style("ticks")
plt.rcParams['font.family'] = ['Liberation Sans', 'DejaVu Sans']
plt.rcParams['lines.scale_dashes'] = False

LINE_COLOR = "#1e1e1e"
STYLES = ["-", (0, (0.8, 2.2)), (0, (3.8, 2.8)), (0, (8.5, 4.5))]
LW = 0.8

W_PX, H_PX = 969, 1336
fig = plt.figure(figsize=(W_PX / 100, H_PX / 100), dpi=100)

X_LEFT_PX, X_RIGHT_PX = 66.3, 975.7
AX_TOPS_PX = [66, 332, 599, 866, 1132]
AX_H_PX = 131

for i in range(5):
    top = AX_TOPS_PX[i]
    bottom = top + AX_H_PX
    ax = fig.add_axes([X_LEFT_PX / W_PX, 1 - bottom / H_PX,
                       (X_RIGHT_PX - X_LEFT_PX) / W_PX, AX_H_PX / H_PX])
    for s, series in enumerate(PANEL_SERIES[i]):
        t = [p[0] for p in series]
        v = [p[1] for p in series]
        sns.lineplot(x=t, y=v, ax=ax, color=LINE_COLOR, linewidth=LW,
                     linestyle=STYLES[s], estimator=None, sort=False,
                     legend=False)
    ax.set_xlim(-40, 1040)
    ax.set_ylim(*PANEL_YLIM[i])
    ax.set_xticks(X_TICKS)
    ax.set_yticks(PANEL_YTICKS[i])
    ax.set_xticklabels([str(x) for x in X_TICKS])
    ax.set_yticklabels([str(y) for y in PANEL_YTICKS[i]])
    ax.tick_params(axis='both', direction='out', length=3, width=0.8,
                   color="#333333", labelsize=8.6, labelcolor="#1a1a1a")
    ax.tick_params(axis='x', pad=10.5)
    ax.tick_params(axis='y', pad=6)
    for lab in ax.get_yticklabels():
        lab.set_rotation(90)
        lab.set_verticalalignment('center')
    for sp in ax.spines.values():
        sp.set_visible(True)
        sp.set_color("#3a3a3a")
        sp.set_linewidth(0.8)
    ax.set_xlabel("")
    ax.set_ylabel("")

    xc = (X_LEFT_PX + X_RIGHT_PX) / 2 / W_PX
    fig.text(xc, 1 - (top - 47.5) / H_PX, TITLES[i], ha='center', va='center',
             fontsize=15.8, color="#111111")
    fig.text(xc, 1 - (bottom + 52) / H_PX, "time", ha='center', va='center',
             fontsize=8.7, color="#1a1a1a")
    fig.text(xc, 1 - (bottom + 68) / H_PX, TAGS[i], ha='center', va='center',
             fontsize=8.7, color="#1a1a1a")
    fig.text(18 / W_PX, 1 - (top + AX_H_PX / 2) / H_PX, "biology scalars",
             rotation=90, ha='center', va='center', fontsize=8.7, color="#1a1a1a")

    if i == 0:
        handles = ax.get_lines()[:4]
        anchor_x = (968 - X_LEFT_PX) / (X_RIGHT_PX - X_LEFT_PX)
        leg = ax.legend(handles, SERIES_NAMES, loc='upper right',
                        bbox_to_anchor=(anchor_x, 1 - 3 / AX_H_PX), borderaxespad=0,
                        frameon=True, fancybox=False, framealpha=1,
                        edgecolor="black", fontsize=8.6, handlelength=2.9,
                        handletextpad=1.4, labelspacing=0.3, borderpad=0.95)
        leg.get_frame().set_linewidth(0.8)

fig.savefig("out.png", dpi=100)
